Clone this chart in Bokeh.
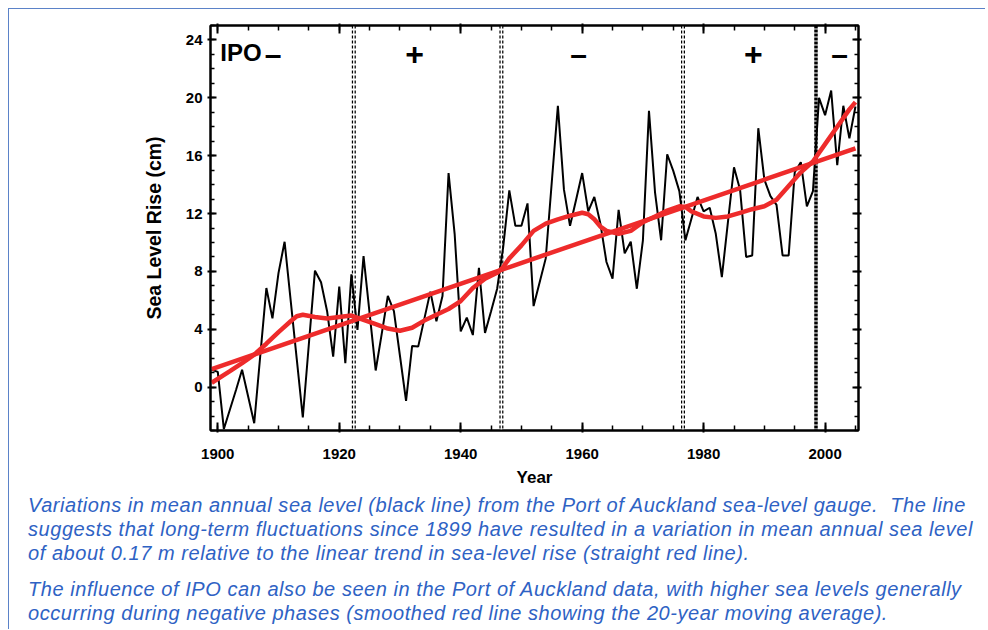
from bokeh.plotting import figure
from bokeh.layouts import column
from bokeh.models import Range1d, LinearAxis, FixedTicker, Span, Label, Div
from bokeh.embed import file_html
from bokeh.resources import INLINE

# ---------------- data ----------------
years = list(range(1899, 2006))
sea_level_cm = [
    1.2, 1.05, -2.9, -1.55, -0.2, 1.2, -0.65, -2.5, 2.2, 6.85,          # 1899-1908
    4.75, 7.9, 10.05, 6.0, 1.95, -2.1, 3.0, 8.05, 7.25, 5.25,            # 1909-1918
    2.1, 6.95, 1.65, 7.8, 3.95, 9.05, 5.1, 1.15, 3.7, 6.3,               # 1919-1928
    5.25, 2.15, -0.95, 2.85, 2.8, 4.7, 6.6, 4.55, 6.3, 14.8,             # 1929-1938
    10.6, 3.85, 4.8, 3.6, 8.25, 3.75, 5.25, 6.8, 9.7, 13.6,              # 1939-1948
    11.15, 11.15, 12.7, 5.6, 7.25, 8.9, 14.2, 19.45, 13.65, 11.15,       # 1949-1958
    12.95, 14.8, 12.15, 13.15, 11.3, 8.65, 7.5, 12.25, 9.25, 10.05,      # 1959-1968
    6.8, 10.15, 19.1, 13.45, 10.15, 16.1, 14.95, 13.55, 10.15, 11.65,    # 1969-1978
    13.15, 12.15, 12.4, 10.6, 7.6, 11.4, 15.2, 13.65, 9.0, 9.1,          # 1979-1988
    17.9, 14.35, 13.2, 12.6, 9.1, 9.1, 14.85, 15.55, 12.5, 13.55,        # 1989-1998
    20.0, 18.8, 20.5, 15.35, 19.45, 17.2, 19.4,                          # 1999-2005
]

trend_years = [1899, 2005]
trend_cm = [1.25, 16.5]

smooth_years = [1899, 1902, 1904, 1906, 1908, 1910, 1912, 1913, 1914, 1916,
                1918, 1920, 1922, 1924, 1926, 1928, 1930, 1932, 1934, 1936,
                1938, 1940, 1942, 1944, 1946, 1947, 1948, 1950, 1952, 1954,
                1956, 1958, 1960, 1961, 1962, 1963, 1964, 1966, 1968, 1970,
                1972, 1974, 1976, 1977, 1978, 1980, 1982, 1984, 1986, 1988,
                1990, 1992, 1994, 1996, 1998, 2000, 2002, 2004, 2005]
smooth_cm = [0.3, 1.1, 1.65, 2.25, 3.0, 3.8, 4.55, 4.9, 5.0, 4.85,
             4.75, 4.85, 4.95, 4.65, 4.35, 4.05, 3.9, 4.1, 4.6, 5.0,
             5.4, 5.95, 6.85, 7.5, 7.9, 8.3, 8.9, 9.8, 10.8, 11.3,
             11.6, 11.85, 12.05, 11.95, 11.6, 11.1, 10.8, 10.6, 10.8, 11.4,
             11.8, 12.2, 12.5, 12.45, 12.15, 11.8, 11.7, 11.8, 12.05, 12.3,
             12.5, 12.95, 13.9, 14.85, 15.6, 16.8, 18.0, 19.2, 19.7]

ipo_boundaries = [1922.4, 1946.7, 1976.6, 1998.5]
phase_signs = ["\u2013", "+", "\u2013", "+", "\u2013"]
phase_sign_years = [1909.1, 1932.4, 1959.4, 1988.2, 2002.4]

x_major_ticks = [1900, 1920, 1940, 1960, 1980, 2000]
x_minor_ticks = list(range(1900, 2006, 5))
y_major_ticks = [0, 4, 8, 12, 16, 20, 24]
y_minor_ticks = list(range(-3, 26))

caption_lines = [
    "Variations in mean annual sea level (black line) from the Port of Auckland sea-level gauge.  The line",
    "suggests that long-term fluctuations since 1899 have resulted in a variation in mean annual sea level",
    "of about 0.17 m relative to the linear trend in sea-level rise (straight red line).",
    "The influence of IPO can also be seen in the Port of Auckland data, with higher sea levels generally",
    "occurring during negative phases (smoothed red line showing the 20-year moving average).",
]

FONT = "Liberation Sans"
RED = "#EE2B2B"
BLUE_TEXT = "#2E62C4"
BORDER = "#5B82C8"

# ---------------- chart figure ----------------
p = figure(width=976, height=480,
           x_range=Range1d(1898.8, 2005.5), y_range=Range1d(-3, 25),
           output_backend="svg", toolbar_location=None,
           x_axis_location=None, y_axis_location=None,
           min_border_left=201, min_border_right=127,
           min_border_top=16, min_border_bottom=56)
p.xgrid.visible = False
p.ygrid.visible = False
p.outline_line_color = "black"
p.outline_line_width = 2
p.background_fill_color = "white"
p.border_fill_color = "white"


def make_axis(ticks, minor, tin, tout, min_in, labels, standoff=5):
    ax = LinearAxis(ticker=FixedTicker(ticks=ticks, minor_ticks=minor))
    ax.axis_line_width = 2
    ax.axis_line_color = "black"
    ax.major_tick_line_width = 2
    ax.minor_tick_line_width = 1.5
    ax.major_tick_in = tin
    ax.major_tick_out = tout
    ax.minor_tick_in = min_in
    ax.minor_tick_out = 0
    ax.major_label_text_font = FONT
    ax.major_label_text_font_style = "bold"
    if labels:
        ax.major_label_text_color = "black"
        ax.major_label_text_font_size = "15px"
        ax.major_label_standoff = standoff
    else:
        ax.major_label_text_color = None
        ax.major_label_text_font_size = "2px"
        ax.major_label_standoff = 0
    ax.axis_label_text_font = FONT
    ax.axis_label_text_font_style = "bold"
    ax.axis_label_text_color = "black"
    return ax


xb = make_axis(x_major_ticks, x_minor_ticks, 8, 2, 5, True, standoff=16)
xb.axis_label = "Year"
xb.axis_label_text_font_size = "17px"
xb.axis_label_standoff = 6
p.add_layout(xb, "below")

yl = make_axis(y_major_ticks, y_minor_ticks, 6, 3, 4, True, standoff=5)
yl.axis_label = "Sea Level Rise (cm)"
yl.axis_label_text_font_size = "19.5px"
yl.axis_label_standoff = 18
p.add_layout(yl, "left")

p.add_layout(make_axis(x_major_ticks, x_minor_ticks, 8, 2, 5, False), "above")
p.add_layout(make_axis(y_major_ticks, y_minor_ticks, 6, 3, 4, False), "right")

# IPO phase boundaries
for i, b in enumerate(ipo_boundaries):
    last = i == len(ipo_boundaries) - 1
    p.add_layout(Span(location=b, dimension="height", line_color="black",
                      line_width=3.5 if last else 4, line_dash="3 1" if last else "3 2",
                      level="underlay"))
    if not last:
        p.add_layout(Span(location=b, dimension="height", line_color="white",
                          line_width=1.5, level="underlay"))

# series
p.line(years, sea_level_cm, line_color="black", line_width=2)
p.line(trend_years, trend_cm, line_color=RED, line_width=4.5)
p.line(smooth_years, smooth_cm, line_color=RED, line_width=4.5)

# IPO labels
p.add_layout(Label(x=1900.4, y=23.1, text="IPO", text_font=FONT, text_font_style="bold",
                   text_font_size="24px", text_baseline="middle", text_align="left",
                   text_color="black"))
for s, yr in zip(phase_signs, phase_sign_years):
    p.add_layout(Label(x=yr, y=23.0, text=s, text_font=FONT, text_font_style="bold",
                       text_font_size="32px" if s == "+" else "30px",
                       text_baseline="middle", text_align="center", text_color="black"))

# ---------------- caption ----------------
caption_tops = [6, 30, 54, 90, 114]
rows = "".join(
    f'<div style="position:absolute; left:19px; top:{t}px; white-space:pre; '
    f'line-height:20px;">{line}</div>'
    for line, t in zip(caption_lines, caption_tops)
)
caption_html = (
    f'<div style="position:relative; width:976px; height:140px; '
    f"font-family:'{FONT}', Arial, sans-serif; font-style:italic; font-size:20px; "
    f'letter-spacing:0.55px; color:{BLUE_TEXT};">{rows}</div>'
)
cap = Div(text=caption_html, width=976, height=140,
          styles={"margin": "0", "padding": "0", "overflow": "visible"})

layout = column(p, cap, spacing=0, margin=(8, 0, 0, 8),
                styles={"border-top": f"1px solid {BORDER}",
                        "border-left": f"1px solid {BORDER}",
                        "background-color": "white"})

open("out.html", "w").write(file_html(layout, INLINE))
